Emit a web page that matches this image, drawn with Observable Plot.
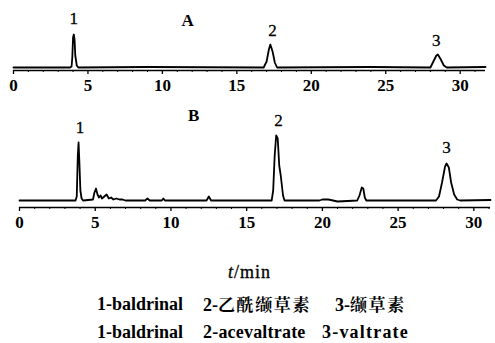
<!DOCTYPE html>
<html><head><meta charset="utf-8">
<script src="https://cdn.jsdelivr.net/npm/d3@7"></script>
<script src="https://cdn.jsdelivr.net/npm/@observablehq/plot@0.6"></script>
<style>
body{margin:0;background:#fff;}
#wrap{position:relative;width:495px;height:343px;overflow:hidden;font-family:'Liberation Serif',serif;color:#000;}
#a,#b{position:absolute;left:0;}
#a{top:0px}#b{top:100px}
.t{position:absolute;font-size:18px;line-height:1;white-space:pre;font-weight:bold;}
.cjk{font-family:'Noto Serif CJK SC',serif;font-weight:bold;font-size:17px;letter-spacing:1.6px;}
</style></head>
<body><div id="wrap">
<div id="a"></div><div id="b"></div>
<div class="t" style="left:228px;top:263px;font-weight:normal;letter-spacing:1px;-webkit-text-stroke:0.3px #000"><i>t</i>/min</div>
<div class="t" style="left:97px;top:295px">1-baldrinal</div>
<div class="t" style="left:203px;top:295px">2-<span class="cjk">乙酰缬草素</span></div>
<div class="t" style="left:335px;top:295px">3-<span class="cjk">缬草素</span></div>
<div class="t" style="left:97px;top:323px">1-baldrinal</div>
<div class="t" style="left:203px;top:323px;letter-spacing:0.2px">2-acevaltrate</div>
<div class="t" style="left:322px;top:323px;letter-spacing:1.2px">3-valtrate</div>
</div>
<script>
// tick labels (min)
const majorTicks = [0, 5, 10, 15, 20, 25, 30];
const minorTicks = [1,2,3,4,6,7,8,9,11,12,13,14,16,17,18,19,21,22,23,24,26,27,28,29,31];

// Chromatogram A (standards)
const timeA   = [0, 2, 3.8, 3.9, 3.95, 4.0, 4.05, 4.1, 4.15, 4.25, 4.35, 9, 16.8, 17.0, 17.15, 17.25, 17.4, 17.55, 17.7, 24, 28.0, 28.2, 28.4, 28.5, 28.7, 28.9, 29.1, 31.7];
const signalA = [0, 0, 0,   1,   10,   30,  33,   28,  12,   2,    0,    0.5, 0,  6,    18,    23,    16,   5,     0,    0.5, 0,   6,    12,   13,   8,    2,    0,    0.5];

// Chromatogram B (sample)
const timeB   = [0, 3.7, 3.78, 3.85, 3.9, 3.95, 4.02, 4.1, 4.2, 4.85, 4.95, 5.05, 5.15, 5.25, 5.35, 5.45, 5.6, 5.75, 5.9, 6.05, 6.2, 6.4, 6.6, 6.8, 7.0, 8.3, 8.45, 8.6, 9.4, 9.5, 9.6, 12.35, 12.5, 12.65, 16.65, 16.75, 16.85, 16.95, 17.05, 17.15, 17.25, 17.4, 17.5, 19.8, 20.0, 20.4, 21.0, 22.3, 22.45, 22.6, 22.7, 22.8, 22.9, 25.5, 27.5, 27.7, 27.9, 28.1, 28.2, 28.35, 28.5, 28.7, 28.9, 29.1, 31.1];
const signalB = [0, 0,   4,    45,   58,  40,   10,   2,   0,   1,    8,    12,   6,    3,    5,    2,    4,    6,    2,   3,    1,   2,   1,   1,   0,   0,   2,    0,   0,   2,   0,   0,     4,    0,     0,     10,    45,    65,    62,    35,    25,    5,    0,    0,    1,    1,    -1,   0,    5,     13,   12,   3,    0,    0,    0,    4,    18,   34,   37,  33,    18,   6,    1,    0,    0.5];

// peak labels
const labelTextA = ["1", "A", "2", "3"];
const labelTimeA = [4.05, 11.7, 17.4, 28.4];
const labelSigA  = [49, 47, 37, 27];
const labelTextB = ["1", "B", "2", "3"];
const labelTimeB = [4.0, 11.5, 17.1, 28.2];
const labelSigB  = [73, 85, 80, 53];

function chart({time, signal, lt, lx, ly, xDomain, yDomain, height, mLeft, mRight}) {
  const trace = time.map((t, i) => ({t, v: signal[i]}));
  const labels = lt.map((s, i) => ({s, t: lx[i], v: ly[i]}));
  const heavy = s => s === "A" || s === "B";
  const yAxis = yDomain[0];
  return Plot.plot({
    width: 495, height, marginLeft: mLeft, marginRight: mRight, marginTop: 0, marginBottom: height - (yDomain[1] - yDomain[0]),
    x: {domain: xDomain},
    y: {domain: yDomain, axis: null},
    style: {fontFamily: "'Liberation Serif', serif", color: "#000", background: "transparent"},
    marks: [
      Plot.ruleY([yAxis], {stroke: "#000", strokeWidth: 1.6}),
      Plot.ruleX(minorTicks, {y1: yAxis, y2: yAxis - 2, stroke: "#000", strokeWidth: 1}),
      Plot.axisX({ticks: majorTicks, tickSize: 4, tickPadding: 4, fontSize: 17, fontWeight: "bold", label: null, strokeWidth: 1.3}),
      Plot.line(trace, {x: "t", y: "v", stroke: "#000", strokeWidth: 1.8, curve: "linear"}),
      Plot.text(labels.filter(d => !heavy(d.s)), {x: "t", y: "v", text: "s", fontSize: 17, fill: "#000", stroke: "#000", strokeWidth: 0.3}),
      Plot.text(labels.filter(d => heavy(d.s)), {x: "t", y: "v", text: "s", fontSize: 17, fontWeight: "bold", fill: "#000"})
    ]
  });
}

document.getElementById("a").append(chart({
  time: timeA, signal: signalA, lt: labelTextA, lx: labelTimeA, ly: labelSigA,
  xDomain: [0, 31.7], yDomain: [-3, 67], height: 100, mLeft: 13, mRight: 10
}));
document.getElementById("b").append(chart({
  time: timeB, signal: signalB, lt: labelTextB, lx: labelTimeB, ly: labelSigB,
  xDomain: [0, 31.1], yDomain: [-7, 100], height: 140, mLeft: 19, mRight: 5
}));
</script>
</body></html>
